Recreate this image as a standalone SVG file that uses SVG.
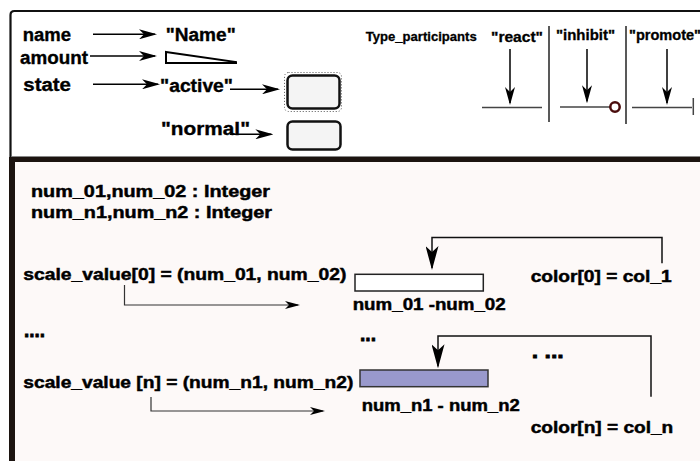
<svg xmlns="http://www.w3.org/2000/svg" width="700" height="461" viewBox="0 0 700 461">
  <defs>
    <style>
      text { font-family: "Liberation Sans", Arial, Helvetica, sans-serif; font-weight: bold; fill: #000; stroke: #000; stroke-width: 0.35; }
      .big { font-size: 18px; }
      .hdr { font-size: 13px; stroke-width: 0.3; }
      .leg { font-size: 14px; stroke-width: 0.3; }
      .low { font-size: 16px; stroke-width: 0.45; }
      .dots { font-size: 20px; stroke-width: 0.8; }
      .conn { fill: none; stroke: #000; stroke-width: 1.5; }
      .hook { fill: none; stroke: #111; stroke-width: 1.5; }
      .thin { fill: none; stroke: #333; stroke-width: 1.2; }
      .base { fill: none; stroke: #444; stroke-width: 1.5; }
      .divider { fill: none; stroke: #222; stroke-width: 1.5; }
      .state { fill: #f4f4f4; stroke: #111; stroke-width: 2.5; }
    </style>
    <marker id="arrow" markerUnits="userSpaceOnUse" viewBox="0 0 18 10" refX="16" refY="5" markerWidth="18" markerHeight="10" orient="auto">
      <path d="M0,0 L18,5 L0,10 L5,5 Z" fill="#000"/>
    </marker>
    <marker id="arrow-lg" markerUnits="userSpaceOnUse" viewBox="0 0 24 13" refX="22" refY="6.5" markerWidth="24" markerHeight="13" orient="auto">
      <path d="M0,0 L24,6.5 L0,13 L6,6.5 Z" fill="#000"/>
    </marker>
    <marker id="arrow-sm" markerUnits="userSpaceOnUse" viewBox="0 0 15 8" refX="13" refY="4" markerWidth="15" markerHeight="8" orient="auto">
      <path d="M0,0 L15,4 L0,8 L4,4 Z" fill="#000"/>
    </marker>
  </defs>

  <!-- panels -->
  <rect x="0" y="0" width="700" height="461" fill="#ffffff"/>
  <rect x="12" y="162" width="688" height="299" fill="#fdf9f8"/>
  <path d="M10.5,157 V15 Q10.5,11 14.5,11 H700" fill="none" stroke="#111" stroke-width="2.2"/>
  <line x1="12" y1="156.5" x2="700" y2="156.5" stroke="#888" stroke-width="1"/>
  <rect x="9" y="157" width="691" height="5" fill="#1c1410"/>
  <rect x="9" y="157" width="6" height="304" fill="#1c1410"/>

  <!-- legend: attribute names -->
  <g id="attr-name"><text class="big" x="22.7" y="40.7" textLength="48.3" lengthAdjust="spacingAndGlyphs">name</text></g>
  <g id="attr-amount"><text class="big" x="20" y="64.3" textLength="68" lengthAdjust="spacingAndGlyphs">amount</text></g>
  <g id="attr-state"><text class="big" x="23.3" y="90.5" textLength="47.7" lengthAdjust="spacingAndGlyphs">state</text></g>

  <!-- legend: attribute values -->
  <g id="value-name"><text class="big" x="165.7" y="40.7" textLength="70" lengthAdjust="spacingAndGlyphs">"Name"</text></g>
  <g id="value-amount"><polygon points="166,52 236,62 236,63 166,63" fill="#fff" stroke="#000" stroke-width="2" stroke-linejoin="miter"/></g>
  <g id="value-active"><text class="big" x="160" y="92" textLength="73" lengthAdjust="spacingAndGlyphs">"active"</text></g>
  <g id="value-normal"><text class="big" x="161" y="135" textLength="89" lengthAdjust="spacingAndGlyphs">"normal"</text></g>

  <!-- legend: state glyphs -->
  <g id="glyph-active">
    <rect x="284.5" y="72.5" width="57" height="39" rx="4" fill="none" stroke="#555" stroke-width="1" stroke-dasharray="1,2"/>
    <rect class="state" x="287.5" y="75.5" width="52" height="33" rx="5"/>
  </g>
  <g id="glyph-normal">
    <rect class="state" x="287.5" y="121.5" width="53" height="28" rx="5"/>
  </g>

  <!-- legend: participant types -->
  <g id="type-header"><text class="hdr" x="365.7" y="40.7" textLength="111" lengthAdjust="spacingAndGlyphs">Type_participants</text></g>
  <g id="type-react">
    <text class="leg" x="491" y="42.3" textLength="52" lengthAdjust="spacingAndGlyphs">"react"</text>
    <line class="base" x1="482" y1="107.5" x2="542" y2="107.5"/>
  </g>
  <g id="type-inhibit">
    <text class="leg" x="556" y="40" textLength="59" lengthAdjust="spacingAndGlyphs">"inhibit"</text>
    <line class="base" x1="560" y1="107" x2="610" y2="107"/>
    <circle cx="615" cy="107" r="4.7" fill="#fff" stroke="#4a0c0c" stroke-width="2.5"/>
  </g>
  <g id="type-promote">
    <text class="leg" x="629" y="40" textLength="72" lengthAdjust="spacingAndGlyphs">"promote"</text>
    <line class="base" x1="632" y1="107.5" x2="692" y2="107.5"/>
    <line class="base" x1="693.3" y1="98" x2="693.3" y2="115"/>
  </g>
  <g id="type-dividers">
    <line class="divider" x1="549" y1="26" x2="549" y2="122"/>
    <line class="divider" x1="626" y1="26" x2="626" y2="124"/>
  </g>

  <!-- definitions -->
  <g id="decl-01"><text class="low" x="31" y="196.7" textLength="239" lengthAdjust="spacingAndGlyphs">num_01,num_02 : Integer</text></g>
  <g id="decl-n"><text class="low" x="31" y="218" textLength="241" lengthAdjust="spacingAndGlyphs">num_n1,num_n2 : Integer</text></g>
  <g id="scale-0"><text class="low" x="23.3" y="280" textLength="323" lengthAdjust="spacingAndGlyphs">scale_value[0] = (num_01, num_02)</text></g>
  <g id="ellipsis-left"><text class="dots" x="24" y="337" textLength="21" lengthAdjust="spacingAndGlyphs">....</text></g>
  <g id="scale-n"><text class="low" x="23.3" y="388.3" textLength="330" lengthAdjust="spacingAndGlyphs">scale_value [n] = (num_n1, num_n2)</text></g>

  <g id="bar-0">
    <rect x="355" y="274.3" width="128.3" height="16.7" fill="#ffffff" stroke="#222" stroke-width="1.5"/>
    <text class="low" x="352.7" y="310" textLength="153" lengthAdjust="spacingAndGlyphs">num_01 -num_02</text>
  </g>
  <g id="ellipsis-mid"><text class="dots" x="360" y="341" textLength="16" lengthAdjust="spacingAndGlyphs">...</text></g>
  <g id="bar-n">
    <rect x="360" y="370" width="128" height="16.7" fill="#9999cc" stroke="#333" stroke-width="1.5"/>
    <text class="low" x="361.7" y="411" textLength="158" lengthAdjust="spacingAndGlyphs">num_n1 - num_n2</text>
  </g>

  <g id="color-0"><text class="low" x="530.7" y="281.7" textLength="141" lengthAdjust="spacingAndGlyphs">color[0] = col_1</text></g>
  <g id="ellipsis-right"><text class="dots" x="531.7" y="358.3" textLength="32" lengthAdjust="spacingAndGlyphs">. ...</text></g>
  <g id="color-n"><text class="low" x="530.7" y="433.3" textLength="142.6" lengthAdjust="spacingAndGlyphs">color[n] = col_n</text></g>

  <!-- connectors -->
  <g id="connectors">
    <line class="conn" x1="93" y1="34.3" x2="155" y2="34.3" marker-end="url(#arrow)"/>
    <line class="conn" x1="90" y1="56" x2="155" y2="56" marker-end="url(#arrow)"/>
    <line class="conn" x1="93" y1="84.3" x2="158" y2="84.3" marker-end="url(#arrow)"/>
    <line class="conn" x1="230" y1="89.3" x2="278" y2="89.3" marker-end="url(#arrow)"/>
    <line class="conn" x1="230" y1="134.3" x2="271.3" y2="134.3" marker-end="url(#arrow)"/>

    <line class="conn" x1="510" y1="49" x2="510" y2="103" marker-end="url(#arrow)"/>
    <line class="conn" x1="587" y1="49" x2="587" y2="101.3" marker-end="url(#arrow)"/>
    <line class="conn" x1="667" y1="49" x2="667" y2="103" marker-end="url(#arrow)"/>

    <polyline class="thin" points="124.5,285 124.5,305 298,305" marker-end="url(#arrow-sm)"/>
    <polyline class="thin" points="151,397 151,411 323,411" marker-end="url(#arrow-sm)"/>

    <polyline class="hook" points="662,263.3 662,237.5 432,237.5 432,268" marker-end="url(#arrow-lg)"/>
    <polyline class="hook" points="651,396.7 651,336 438,336 438,366.3" marker-end="url(#arrow-lg)"/>
  </g>
</svg>
